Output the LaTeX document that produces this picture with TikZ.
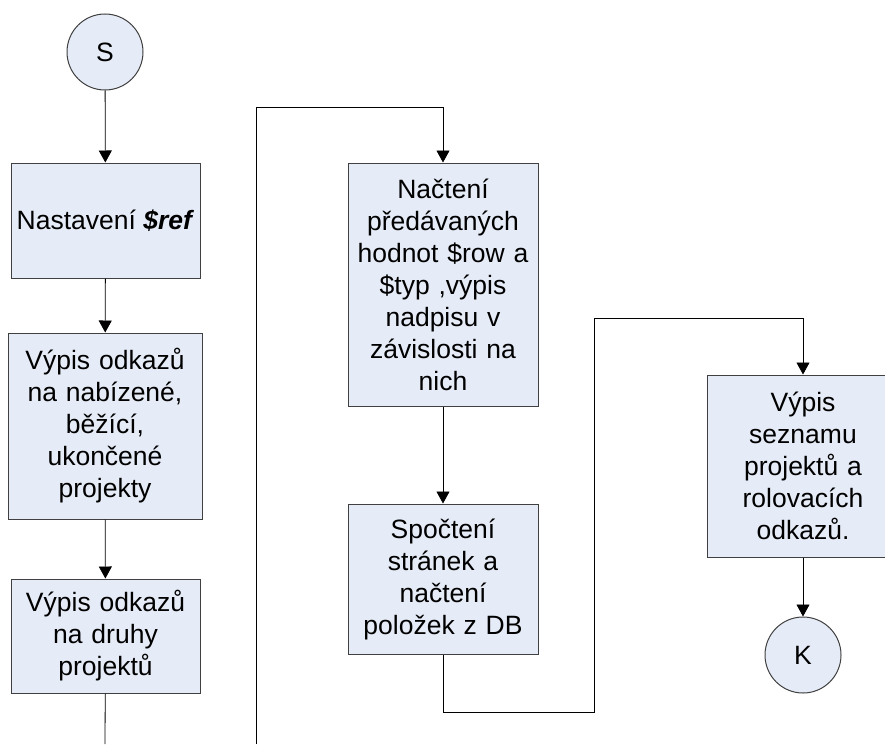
\documentclass[tikz,border=0pt]{standalone}
\usepackage{fontspec}
\setmainfont{Liberation Sans}
\usetikzlibrary{arrows.meta}
\definecolor{boxfill}{HTML}{E6ECF7}
\definecolor{edge}{HTML}{404040}

\begin{document}
\begin{tikzpicture}[x=1pt,y=-1pt,
  proc/.style={draw=edge,fill=boxfill,line width=1pt,align=center,inner sep=2pt,
    font=\fontsize{26.5}{32}\selectfont},
  term/.style={proc,circle,minimum size=76pt},
  flow/.style={line width=.8pt,-{Triangle[width=13pt,length=12pt]}}]
\useasboundingbox (0,0) rectangle (885,744);
\node[term] (s) at (105,52) {S};
\node[proc,minimum width=189pt,minimum height=115pt] (nast) at (105.5,220.5) {Nastavení \textbf{\textit{\$ref}}};
\node[proc,minimum width=194pt,minimum height=186pt,text width=186pt] (odk) at (105,426) {Výpis odkazů\\na nabízené,\\běžící,\\ukončené\\projekty};
\node[proc,minimum width=189pt,minimum height=114pt,text width=182pt] (druhy) at (105.5,636) {Výpis odkazů\\na druhy\\projektů};
\node[proc,minimum width=190pt,minimum height=243pt,text width=184pt] (nacti) at (443,284.5) {Načtení\\předávaných\\hodnot \$row a\\\$typ ,výpis\\nadpisu v\\závislosti na\\nich};
\node[proc,minimum width=190pt,minimum height=150pt,text width=184pt] (spocti) at (443,579) {Spočtení\\stránek a\\načtení\\položek z DB};
\node[proc,minimum width=192pt,minimum height=182pt,text width=184pt] (seznam) at (803,466) {Výpis\\seznamu\\projektů a\\rolovacích\\odkazů.};
\node[term] (k) at (803,655) {K};
\coordinate (a1) at (105,744);
\coordinate (a2) at (256,744);
\coordinate (b1) at (594,712);
% spojnice
\draw[flow] (s) -- (nast);
\draw[flow] (nast) -- (odk);
\draw[flow] (odk) -- (druhy);
\draw[line width=.8pt] (druhy) -- (a1);
\draw[flow] (a2) |- (443,107) -- (nacti);
\draw[flow] (nacti) -- (spocti);
\draw[flow] (spocti) |- (b1) |- (803,318) -- (seznam);
\draw[flow] (seznam) -- (k);
\end{tikzpicture}
\end{document}
